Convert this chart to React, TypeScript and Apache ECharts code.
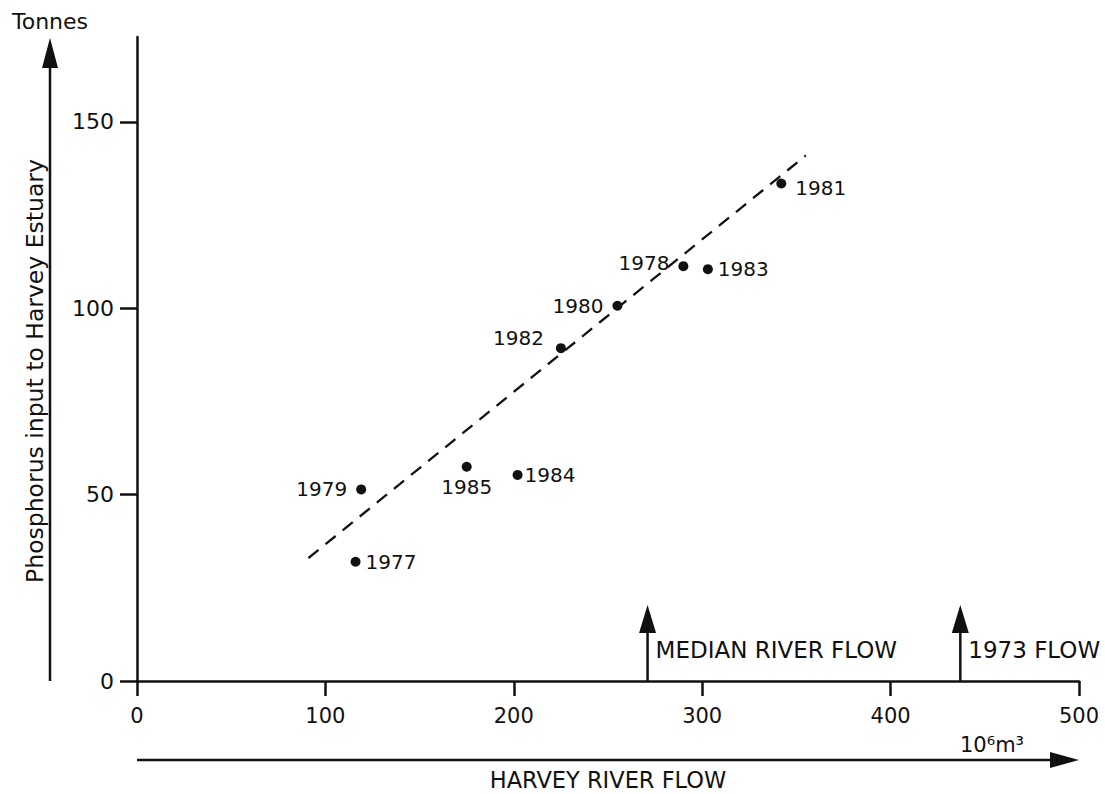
import React, { useEffect, useRef } from "react";
import * as echarts from "echarts";

const years = ["1977", "1978", "1979", "1980", "1981", "1982", "1983", "1984", "1985"];
const riverFlow = [116, 290, 119, 255, 342, 225, 303, 202, 175];
const phosphorus = [32, 111.3, 51.4, 100.7, 133.5, 89.3, 110.5, 55.3, 57.5];

const trendFlow = [91, 355];
const trendPhosphorus = [33, 141];

const xTicks = [0, 100, 200, 300, 400, 500];
const yTicks = [0, 50, 100, 150];

const flowMarkerValues = [271, 437];
const flowMarkerLabels = ["MEDIAN RIVER FLOW", "1973 FLOW"];
const flowMarkerHeights = [20.4, 20.4];

const FONT = "DejaVu Sans";
const INK = "#111";

// label placement per year (style, not data)
const labelPlacement: Record<string, { position: string; distance: number; offset?: number[] }> = {
  "1977": { position: "right", distance: 5 },
  "1978": { position: "left", distance: 9, offset: [0, -3] },
  "1979": { position: "left", distance: 9 },
  "1980": { position: "left", distance: 9 },
  "1981": { position: "right", distance: 9, offset: [0, 5] },
  "1982": { position: "left", distance: 12, offset: [0, -10] },
  "1983": { position: "right", distance: 5 },
  "1984": { position: "right", distance: 2 },
  "1985": { position: "bottom", distance: 5 },
};

export default function App() {
  const ref = useRef<HTMLDivElement>(null);

  useEffect(() => {
    if (!ref.current) return;
    const chart = echarts.init(ref.current, undefined, { renderer: "svg" });

    const scatterData = years.map((y, i) => {
      const p = labelPlacement[y];
      return {
        name: y,
        value: [riverFlow[i], phosphorus[i]],
        label: {
          show: true,
          formatter: y,
          position: p.position,
          distance: p.distance,
          offset: p.offset || [0, 0],
        },
      };
    });

    const option: any = {
      animation: false,
      backgroundColor: "#fff",
      textStyle: { fontFamily: FONT, color: INK },
      grid: { left: 137, right: 26, top: 37, bottom: 113, containLabel: false },
      xAxis: {
        type: "value",
        min: 0,
        max: 500,
        interval: 100,
        axisLine: { show: true, onZero: false, lineStyle: { color: INK, width: 2.5 } },
        axisTick: { show: true, inside: false, length: 15, lineStyle: { color: INK, width: 2.5 } },
        axisLabel: {
          color: INK,
          fontSize: 21,
          fontFamily: FONT,
          margin: 24,
          customValues: xTicks,
        },
        splitLine: { show: false },
      },
      yAxis: {
        type: "value",
        min: 0,
        max: 172.8,
        axisLine: { show: true, onZero: false, lineStyle: { color: INK, width: 2.5 } },
        axisTick: {
          show: true,
          inside: false,
          length: 17,
          lineStyle: { color: INK, width: 2.5 },
          customValues: yTicks,
        },
        axisLabel: {
          color: INK,
          fontSize: 22,
          fontFamily: FONT,
          margin: 23,
          customValues: yTicks,
        },
        splitLine: { show: false },
      },
      series: [
        {
          type: "line",
          data: trendFlow.map((x, i) => [x, trendPhosphorus[i]]),
          symbol: "none",
          lineStyle: { color: INK, width: 2.3, type: [13, 9] },
          z: 2,
        },
        {
          type: "scatter",
          data: scatterData,
          symbol: "circle",
          symbolSize: 10,
          itemStyle: { color: INK, opacity: 1 },
          label: { color: INK, fontSize: 20, fontFamily: FONT, opacity: 1 },
          emphasis: { disabled: true },
          z: 3,
        },
        {
          type: "custom",
          data: flowMarkerValues.map((v, i) => [v, flowMarkerHeights[i], i]),
          renderItem: (params: any, api: any) => {
            const x = api.value(0);
            const h = api.value(1);
            const idx = api.value(2);
            const base = api.coord([x, 0]);
            const tip = api.coord([x, h]);
            const headLen = 28;
            const headW = 8.5;
            return {
              type: "group",
              children: [
                {
                  type: "line",
                  shape: { x1: base[0], y1: base[1], x2: tip[0], y2: tip[1] + headLen - 2 },
                  style: { stroke: INK, lineWidth: 2.5 },
                },
                {
                  type: "polygon",
                  shape: {
                    points: [
                      [tip[0], tip[1]],
                      [tip[0] - headW, tip[1] + headLen],
                      [tip[0] + headW, tip[1] + headLen],
                    ],
                  },
                  style: { fill: INK },
                },
                {
                  type: "text",
                  style: {
                    text: flowMarkerLabels[idx],
                    x: base[0] + 8,
                    y: base[1] - 31,
                    fill: INK,
                    fontSize: 23,
                    fontFamily: FONT,
                    align: "left",
                    verticalAlign: "middle",
                  },
                },
              ],
            };
          },
          z: 4,
        },
      ],
      graphic: [
        {
          type: "text",
          left: 12,
          top: 10,
          style: { text: "Tonnes", fill: INK, fontSize: 22, fontFamily: FONT },
        },
        {
          type: "line",
          shape: { x1: 50, y1: 681, x2: 50, y2: 66 },
          style: { stroke: INK, lineWidth: 2.5 },
        },
        {
          type: "polygon",
          shape: { points: [[50, 38], [42, 68], [58, 68]] },
          style: { fill: INK },
        },
        {
          type: "text",
          x: 35,
          y: 371,
          rotation: Math.PI / 2,
          style: {
            text: "Phosphorus input to Harvey Estuary",
            fill: INK,
            fontSize: 23.5,
            fontFamily: FONT,
            align: "center",
            verticalAlign: "middle",
          },
        },
        {
          type: "line",
          shape: { x1: 137, y1: 760, x2: 1052, y2: 760 },
          style: { stroke: INK, lineWidth: 2.5 },
        },
        {
          type: "polygon",
          shape: { points: [[1079, 760], [1050, 752], [1050, 768]] },
          style: { fill: INK },
        },
        {
          type: "text",
          x: 960,
          y: 745,
          style: {
            text: "10⁶m³",
            fill: INK,
            fontSize: 21,
            fontFamily: FONT,
            align: "left",
            verticalAlign: "middle",
          },
        },
        {
          type: "text",
          x: 608,
          y: 780,
          style: {
            text: "HARVEY RIVER FLOW",
            fill: INK,
            fontSize: 22.5,
            fontFamily: FONT,
            align: "center",
            verticalAlign: "middle",
          },
        },
      ],
    };

    chart.setOption(option);
    return () => chart.dispose();
  }, []);

  return (
    <div
      ref={ref}
      style={{ position: "absolute", left: 0, top: 0, width: 1105, height: 794, background: "#fff" }}
    />
  );
}
